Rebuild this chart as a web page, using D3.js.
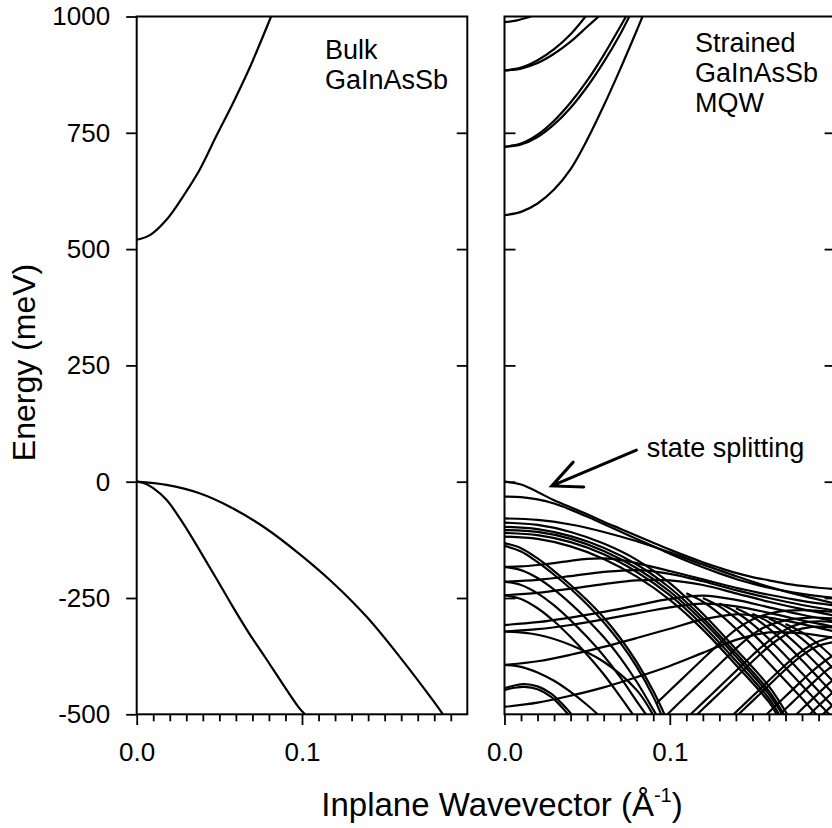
<!DOCTYPE html>
<html>
<head>
<meta charset="utf-8">
<script src="https://cdn.jsdelivr.net/npm/d3@7"></script>
<style>
  body { margin: 0; background: #fff; }
  svg { display: block; font-family: "Liberation Sans", Arial, Helvetica, sans-serif; }
</style>
</head>
<body>
<svg id="chart" width="832" height="828"></svg>
<script>
// ---- axis values ----
var yTicks = [1000, 750, 500, 250, 0, -250, -500];
var yInnerTicks = [750, 500, 250, 0, -250];
var xMajorTicks = [0, 0.1];
var xMinorTicks = [0.01, 0.02, 0.03, 0.04, 0.05, 0.06, 0.07, 0.08, 0.09,
                   0.11, 0.12, 0.13, 0.14, 0.15, 0.16, 0.17, 0.18, 0.19];

// ---- bulk GaInAsSb, [k (1/A), E (meV)] ----
var bulkCond = [[0,520],[0.008,530],[0.018,563],[0.028,613],[0.038,670],[0.048,742],[0.058,812],[0.068,887],[0.0813,1000]];
var bulkHeavy = [[0,0],[0.018,-7],[0.038,-25],[0.058,-57],[0.078,-100],[0.098,-154],[0.118,-215],[0.139,-290],[0.159,-376],[0.179,-469],[0.1853,-500]];
var bulkLight = [[0,0],[0.005,-4],[0.010,-14],[0.018,-39],[0.028,-89],[0.038,-147],[0.048,-207],[0.058,-268],[0.068,-326],[0.078,-379],[0.088,-433],[0.098,-485],[0.1018,-500]];

// ---- strained MQW: conduction subbands ----
var mqwCond = [
  [[0,573],[0.01,580],[0.02,598],[0.03,628],[0.04,672],[0.05,735],[0.06,808],[0.07,887],[0.08,970],[0.0835,1000]],
  [[0,720],[0.01,727],[0.02,746],[0.03,776],[0.04,815],[0.05,862],[0.06,917],[0.07,978],[0.0735,1000]],
  [[0,720],[0.01,725],[0.02,741],[0.03,768],[0.04,804],[0.05,849],[0.06,902],[0.07,962],[0.0755,1000]],
  [[0,884],[0.01,890],[0.02,906],[0.03,930],[0.04,962],[0.049,1000]],
  [[0,884],[0.01,888],[0.02,900],[0.03,920],[0.04,946],[0.05,978],[0.057,1000]],
  [[0,988],[0.007,991],[0.014,998],[0.016,1000]]
];

// ---- strained MQW: valence subbands ----
// top subbands, gentle fall to the right edge
var mqwUpper = [
  [[0,0],[0.01,-6],[0.02,-22],[0.03,-40],[0.04,-55],[0.05,-70],[0.06,-86],[0.07,-101],[0.08,-116],[0.09,-131],[0.1,-146],[0.11,-160],[0.12,-173],[0.13,-185],[0.14,-196],[0.15,-205],[0.16,-212],[0.17,-219],[0.18,-224],[0.19,-228],[0.2,-231]],
  [[0,-32],[0.01,-33],[0.02,-38],[0.03,-47],[0.04,-60],[0.05,-75],[0.06,-91],[0.07,-107],[0.08,-123],[0.09,-139],[0.1,-155],[0.11,-170],[0.12,-184],[0.13,-197],[0.14,-209],[0.15,-219],[0.16,-228],[0.17,-235],[0.18,-241],[0.19,-246],[0.2,-250]],
  [[0,-79],[0.02,-82],[0.04,-92],[0.06,-108],[0.08,-128],[0.1,-152],[0.12,-178],[0.14,-203],[0.16,-226],[0.18,-245],[0.2,-262]]
];
// bundle that bends down and reaches -500 near k = 0.17
var mqwSteep = [
  [[0,-88],[0.02,-93],[0.04,-108],[0.06,-133],[0.08,-168],[0.1,-218],[0.12,-284],[0.14,-360],[0.16,-440],[0.171,-500]],
  [[0,-97],[0.02,-102],[0.04,-117],[0.06,-142],[0.08,-178],[0.1,-228],[0.12,-293],[0.14,-369],[0.16,-450],[0.169,-500]],
  [[0,-104],[0.02,-108],[0.04,-123],[0.06,-149],[0.08,-186],[0.1,-236],[0.12,-300],[0.14,-376],[0.16,-457],[0.168,-500]],
  [[0,-110],[0.02,-115],[0.04,-130],[0.06,-156],[0.08,-194],[0.1,-244],[0.12,-309],[0.14,-385],[0.16,-466],[0.166,-500]],
  [[0,-118],[0.02,-123],[0.04,-139],[0.06,-166],[0.08,-204],[0.1,-254],[0.12,-318],[0.14,-394],[0.16,-474],[0.165,-502]]
];
// flat / rising subbands from the left that join the top group
var mqwRising = [
  [[0,-183],[0.01,-182],[0.02,-179],[0.03,-175],[0.04,-170],[0.05,-166],[0.06,-165],[0.07,-168],[0.08,-175],[0.1,-192],[0.12,-210],[0.14,-228],[0.16,-243],[0.18,-256],[0.2,-266]],
  [[0,-215],[0.02,-211],[0.04,-203],[0.06,-194],[0.08,-190],[0.1,-198],[0.12,-214],[0.14,-233],[0.16,-250],[0.18,-265],[0.2,-277]],
  [[0,-244],[0.02,-239],[0.04,-230],[0.06,-220],[0.08,-212],[0.1,-212],[0.12,-222],[0.14,-240],[0.16,-258],[0.18,-274],[0.2,-288]],
  [[0,-308],[0.02,-302],[0.04,-292],[0.06,-280],[0.08,-266],[0.1,-252],[0.12,-245],[0.14,-254],[0.16,-270],[0.18,-286],[0.2,-300]],
  [[0,-322],[0.02,-317],[0.04,-308],[0.06,-296],[0.08,-283],[0.1,-270],[0.12,-262],[0.14,-268],[0.16,-282],[0.18,-298],[0.2,-312]],
  [[0,-394],[0.02,-386],[0.04,-372],[0.06,-355],[0.08,-336],[0.1,-316],[0.12,-296],[0.14,-285],[0.16,-292],[0.18,-306],[0.2,-322]],
  [[0,-484],[0.02,-475],[0.04,-460],[0.06,-442],[0.08,-420],[0.1,-396],[0.12,-368],[0.14,-340],[0.16,-324],[0.18,-326],[0.2,-336]]
];
// deep subbands that reach -500 before k = 0.1
var mqwDeep = [
  [[0,-132],[0.01,-143],[0.02,-165],[0.03,-192],[0.04,-222],[0.05,-255],[0.06,-292],[0.07,-336],[0.08,-388],[0.09,-450],[0.097,-502]],
  [[0,-138],[0.01,-150],[0.02,-173],[0.03,-200],[0.04,-230],[0.05,-264],[0.06,-302],[0.07,-346],[0.08,-398],[0.09,-462],[0.095,-502]],
  [[0,-183],[0.01,-190],[0.02,-207],[0.03,-232],[0.04,-262],[0.05,-296],[0.06,-334],[0.07,-378],[0.08,-430],[0.09,-490],[0.092,-502]],
  [[0,-215],[0.01,-222],[0.02,-240],[0.03,-266],[0.04,-298],[0.05,-334],[0.06,-374],[0.07,-420],[0.08,-472],[0.086,-502]],
  [[0,-244],[0.01,-252],[0.02,-272],[0.03,-300],[0.04,-334],[0.05,-372],[0.06,-414],[0.07,-462],[0.078,-502]],
  [[0,-322],[0.02,-329],[0.04,-351],[0.06,-387],[0.08,-448],[0.09,-502]],
  [[0,-394],[0.01,-398],[0.02,-410],[0.03,-428],[0.04,-452],[0.05,-480],[0.057,-502]],
  [[0,-444],[0.006,-438],[0.012,-435],[0.02,-440],[0.028,-455],[0.035,-478],[0.041,-502]],
  [[0,-448],[0.006,-443],[0.012,-441],[0.02,-446],[0.028,-462],[0.034,-482],[0.039,-502]]
];
// rising branches in the lower right
var mqwCrossUp = [
  [[0.092,-476],[0.1,-449],[0.11,-415],[0.12,-381],[0.13,-348],[0.14,-318],[0.15,-296],[0.165,-280],[0.18,-276],[0.2,-280]],
  [[0.098,-502],[0.106,-474],[0.116,-440],[0.126,-406],[0.136,-372],[0.146,-340],[0.156,-315],[0.17,-298],[0.185,-292],[0.2,-294]],
  [[0.112,-502],[0.12,-475],[0.13,-441],[0.14,-407],[0.15,-373],[0.16,-342],[0.17,-318],[0.18,-304],[0.19,-300],[0.2,-302]],
  [[0.116,-502],[0.124,-475],[0.134,-441],[0.144,-407],[0.154,-373],[0.164,-343],[0.174,-322],[0.186,-312],[0.2,-314]],
  [[0.138,-502],[0.146,-475],[0.156,-441],[0.166,-407],[0.176,-375],[0.186,-350],[0.196,-336],[0.2,-334]],
  [[0.141,-502],[0.149,-475],[0.159,-441],[0.169,-407],[0.179,-376],[0.189,-354],[0.2,-344]],
  [[0.158,-502],[0.166,-475],[0.176,-441],[0.186,-408],[0.196,-380],[0.2,-372]],
  [[0.166,-502],[0.174,-475],[0.184,-441],[0.194,-408],[0.2,-392]],
  [[0.176,-502],[0.184,-475],[0.194,-441],[0.2,-422]],
  [[0.184,-502],[0.192,-475],[0.2,-448]],
  [[0.192,-502],[0.2,-475]]
];
// falling branches in the lower right
var mqwCrossDown = [
  [[0.11,-240],[0.12,-258],[0.13,-284],[0.14,-316],[0.15,-352],[0.16,-390],[0.17,-428],[0.18,-466],[0.189,-502]],
  [[0.12,-250],[0.13,-268],[0.14,-294],[0.15,-326],[0.16,-362],[0.17,-400],[0.18,-438],[0.19,-476],[0.197,-502]],
  [[0.13,-262],[0.14,-280],[0.15,-306],[0.16,-338],[0.17,-374],[0.18,-412],[0.19,-450],[0.2,-488]],
  [[0.14,-272],[0.15,-290],[0.16,-316],[0.17,-348],[0.18,-384],[0.19,-422],[0.2,-460]],
  [[0.15,-284],[0.16,-302],[0.17,-328],[0.18,-360],[0.19,-396],[0.2,-434]],
  [[0.16,-294],[0.17,-312],[0.18,-338],[0.19,-370],[0.2,-406]],
  [[0.17,-306],[0.18,-324],[0.19,-350],[0.2,-382]]
];

// ---- layout ----
var svg = d3.select('#chart');
svg.append('rect').attr('width', 832).attr('height', 828).attr('fill', '#fff');

var y = d3.scaleLinear().domain([-500, 1000]).range([714.3, 16.5]);
var xLeft = d3.scaleLinear().domain([0, 0.2]).range([136.7, 467.3]);
var xRight = d3.scaleLinear().domain([0, 0.2]).range([504.5, 835.1]);

function drawCurves(g, x, curves, clipId) {
    var line = d3.line()
        .x(function(d) { return x(d[0]); })
        .y(function(d) { return y(d[1]); })
        .curve(d3.curveCatmullRom.alpha(0.5));
    g.append('g')
        .attr('clip-path', 'url(#' + clipId + ')')
        .selectAll('path')
        .data(curves)
        .enter().append('path')
        .attr('d', line)
        .attr('fill', 'none')
        .attr('stroke', '#000')
        .attr('stroke-width', 2.2)
        .attr('stroke-linejoin', 'round');
}

function drawFrame(g, x, leftLabels, leftTicksIn) {
    var x0 = x.range()[0], x1 = x.range()[1];
    var yb = y.range()[0], yt = y.range()[1];

    var clipId = 'clip' + Math.round(x0);
    svg.append('clipPath').attr('id', clipId)
        .append('rect').attr('x', x0).attr('y', yt).attr('width', x1 - x0).attr('height', yb - yt);

    // bottom axis: majors with labels, minors without
    g.append('g').attr('transform', 'translate(0,' + yb + ')')
        .call(d3.axisBottom(x).tickValues(xMajorTicks).tickSize(10.7).tickPadding(18).tickFormat(d3.format('.1f')))
        .call(styleAxis);
    g.append('g').attr('transform', 'translate(0,' + yb + ')')
        .call(d3.axisBottom(x).tickValues(xMinorTicks).tickSize(7).tickFormat(''))
        .call(styleAxis);

    // left axis
    if (leftLabels) {
        g.append('g').attr('transform', 'translate(' + x0 + ',0)')
            .call(d3.axisLeft(y).tickValues(yTicks).tickSize(10.5).tickPadding(16)
                .tickFormat(function(d) { return String(d); }))
            .call(styleAxis);
    }
    if (leftTicksIn) {
        g.append('g').attr('transform', 'translate(' + x0 + ',0)')
            .call(d3.axisRight(y).tickValues(yInnerTicks).tickSize(11).tickFormat(''))
            .call(styleAxis);
    }
    // right axis, ticks pointing in
    g.append('g').attr('transform', 'translate(' + x1 + ',0)')
        .call(d3.axisLeft(y).tickValues(yInnerTicks).tickSize(10.5).tickFormat(''))
        .call(styleAxis);

    g.append('rect')
        .attr('x', x0).attr('y', yt)
        .attr('width', x1 - x0).attr('height', yb - yt)
        .attr('fill', 'none').attr('stroke', '#000').attr('stroke-width', 2);
    return clipId;
}

function styleAxis(a) {
    a.select('.domain').remove();
    a.selectAll('.tick line').attr('stroke', '#000').attr('stroke-width', 1.8);
    a.selectAll('.tick text')
        .attr('fill', '#000')
        .style('font-size', '26px')
        .style('font-family', '"Liberation Sans", Arial, Helvetica, sans-serif');
}

// left panel: bulk
var gLeft = svg.append('g').attr('id', 'bulk');
var clipLeft = drawFrame(gLeft, xLeft, true, false);
drawCurves(gLeft, xLeft, [bulkCond, bulkHeavy, bulkLight], clipLeft);

// right panel: MQW
var gRight = svg.append('g').attr('id', 'mqw');
var clipRight = drawFrame(gRight, xRight, false, true);
drawCurves(gRight, xRight, mqwCond, clipRight);
drawCurves(gRight, xRight, mqwUpper, clipRight);
drawCurves(gRight, xRight, mqwSteep, clipRight);
drawCurves(gRight, xRight, mqwRising, clipRight);
drawCurves(gRight, xRight, mqwDeep, clipRight);
drawCurves(gRight, xRight, mqwCrossUp, clipRight);
drawCurves(gRight, xRight, mqwCrossDown, clipRight);

// ---- texts ----
function addText(x, yy, str, size) {
    return svg.append('text').attr('x', x).attr('y', yy)
        .style('font-size', size + 'px').attr('fill', '#000').text(str);
}
addText(325, 59.3, 'Bulk', 27);
addText(325, 89.3, 'GaInAsSb', 27);
addText(695, 51.7, 'Strained', 27);
addText(695, 81.7, 'GaInAsSb', 27);
addText(695, 111.7, 'MQW', 27);
addText(646.7, 456.7, 'state splitting', 27);

// arrow to the split state
var tail = [xRight(0.0798), y(68)];
var tip = [xRight(0.0286), y(-9)];
var ang = Math.atan2(tail[1] - tip[1], tail[0] - tip[0]);
var armLen = 32, spread = 25 * Math.PI / 180;
svg.append('path')
    .attr('d', 'M' + tail + 'L' + tip +
        'M' + [tip[0] + armLen * Math.cos(ang - spread), tip[1] + armLen * Math.sin(ang - spread)] +
        'L' + tip +
        'L' + [tip[0] + armLen * Math.cos(ang + spread), tip[1] + armLen * Math.sin(ang + spread)])
    .attr('fill', 'none').attr('stroke', '#000').attr('stroke-width', 3)
    .attr('stroke-linecap', 'round').attr('stroke-linejoin', 'miter');

// axis titles
svg.append('text')
    .attr('transform', 'translate(35,362.5) rotate(-90)')
    .attr('text-anchor', 'middle')
    .style('font-size', '32px').attr('fill', '#000')
    .text('Energy (meV)');

var xt = svg.append('text')
    .attr('x', 502).attr('y', 816)
    .attr('text-anchor', 'middle')
    .style('font-size', '33px').attr('fill', '#000');
xt.append('tspan').text('Inplane Wavevector (\u00C5');
xt.append('tspan').attr('dy', -14).style('font-size', '20px').text('-1');
xt.append('tspan').attr('dy', 14).text(')');
</script>
</body>
</html>
